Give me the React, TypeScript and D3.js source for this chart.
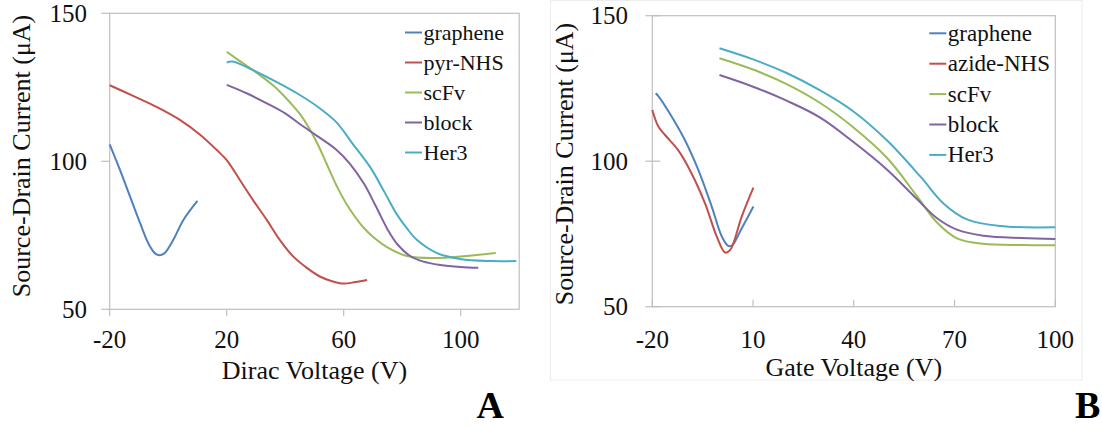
import React from 'react';
import * as d3 from 'd3';

// ---------- Panel A data (Dirac Voltage) ----------
const grapheneA_V = [-20, -16.5, -13, -9.6, -6.8, -4.5, -2.8, -1.1, 1.7, 5.2, 10];
const grapheneA_I = [105.7, 97.1, 88.0, 79.1, 72.3, 68.9, 68.3, 69.1, 73.4, 80.2, 86.6];

const pyrNHS_V = [-20, -12, -4, 4, 11, 16.6, 20, 24.5, 29, 33.7, 38.2, 42.8, 47.4, 52, 56, 60, 64, 68];
const pyrNHS_I = [125.7, 122.1, 118.4, 114.0, 108.9, 103.8, 100.4, 93.7, 86.9, 80.2, 73.4, 67.8, 64.0, 61.0, 59.5, 58.7, 59.2, 59.9];

const scFvA_V = [20, 24, 29, 36.5, 42, 45, 48, 51, 54, 57.7, 61, 66.6, 70, 74.8, 81.6, 90.5, 102, 112];
const scFvA_I = [137, 134.2, 130.8, 125.1, 119.5, 116.0, 111.5, 106.0, 99.5, 91.5, 85.5, 77.8, 74.5, 71.0, 68.0, 67.3, 68.0, 69.0];

const blockA_V = [20, 27, 33.7, 40, 45, 51, 57, 62, 67, 71, 75, 78.5, 82.7, 87, 93, 100, 106];
const blockA_I = [125.8, 122.9, 119.6, 116.2, 112.6, 108.5, 104.3, 99.3, 92.3, 84.8, 77.0, 71.8, 68.0, 66.2, 65.0, 64.3, 64.0];

const her3A_V = [20, 22, 29, 37, 45, 51, 57.4, 63, 69, 74, 77.9, 81.5, 85.1, 91.9, 99.8, 110, 119];
const her3A_I = [133.4, 133.7, 130.8, 126.8, 122.4, 118.5, 113.3, 106.0, 98.1, 89.5, 82.5, 77.5, 73.4, 69.0, 67.0, 66.3, 66.3];

// ---------- Panel B data (Gate Voltage) ----------
const grapheneB_V = [-19, -18.2, -14.2, -10.3, -6.3, -2.3, 0.7, 2.6, 3.8, 6.6, 10.1];
const grapheneB_I = [123.3, 122.4, 115.3, 107.3, 97.0, 84.4, 74.1, 70.9, 71.1, 76.9, 84.4];

const azideNHS_V = [-20, -18.2, -16.2, -12.3, -8.3, -4.3, -0.8, 1.7, 3.2, 6.6, 10.1];
const azideNHS_I = [117.6, 111.9, 109.0, 103.8, 95.8, 85.5, 74.1, 68.6, 69.5, 80.9, 90.9];

const scFvB_V = [0, 10, 20, 30, 40, 50, 58.8, 64.7, 70.7, 78.6, 90, 100];
const scFvB_I = [135.4, 131.5, 126.5, 120.0, 111.5, 101.0, 88.0, 79.0, 73.5, 71.6, 71.2, 71.1];

const blockB_V = [0, 10, 20, 30, 40, 50, 58.8, 64.7, 70.7, 78.6, 90, 100];
const blockB_I = [129.6, 125.6, 120.8, 115.0, 106.5, 97.0, 87.0, 80.5, 76.5, 74.4, 73.6, 73.3];

const her3B_V = [0, 10, 20, 30, 40, 50, 60, 66.7, 73.7, 83.6, 100];
const her3B_I = [138.8, 135.0, 130.3, 124.3, 117.0, 107.0, 94.5, 85.5, 80.0, 77.7, 77.3];

// ---------- ticks & labels ----------
const yTicks = [50, 100, 150];
const xTicksA = [-20, 20, 60, 100];
const xTicksB = [-20, 10, 40, 70, 100];
const legendA = ['graphene', 'pyr-NHS', 'scFv', 'block', 'Her3'];
const legendB = ['graphene', 'azide-NHS', 'scFv', 'block', 'Her3'];
const COLORS = ['#4F81BD', '#C0504D', '#9BBB59', '#8064A2', '#4BACC6'];

const zip = (v: number[], i: number[]) => v.map((x, k) => [x, i[k]] as [number, number]);

const seriesA = [
  zip(grapheneA_V, grapheneA_I),
  zip(pyrNHS_V, pyrNHS_I),
  zip(scFvA_V, scFvA_I),
  zip(blockA_V, blockA_I),
  zip(her3A_V, her3A_I),
];
const seriesB = [
  zip(grapheneB_V, grapheneB_I),
  zip(azideNHS_V, azideNHS_I),
  zip(scFvB_V, scFvB_I),
  zip(blockB_V, blockB_I),
  zip(her3B_V, her3B_I),
];

const FONT = '"Liberation Serif", "Times New Roman", serif';
const GRID = '#bfbfbf';

type PanelProps = {
  x0: number; x1: number; y0: number; y1: number;
  xDomain: [number, number];
  xTicks: number[];
  series: [number, number][][];
  legend: string[];
  legX: number; legY: number; legStep: number; legFont: number;
  xTitle: string; titleY: number;
  yTitleX: number; yTitleY: number; yLabelX: number;
  yTickIn: number; yTickOut: number; xTickIn: number; xTickOut: number;
  letter: string; letterX: number;
};

function Panel(p: PanelProps) {
  const x = d3.scaleLinear().domain(p.xDomain).range([p.x0, p.x1]);
  const y = d3.scaleLinear().domain([50, 150]).range([p.y1, p.y0]);
  const line = d3
    .line<[number, number]>()
    .x((d) => x(d[0]))
    .y((d) => y(d[1]))
    .curve(d3.curveCatmullRom.alpha(0.5));
  return (
    <g>
      <rect x={p.x0} y={p.y0} width={p.x1 - p.x0} height={p.y1 - p.y0} fill="none" stroke={GRID} strokeWidth={1.2} />
      {yTicks.map((t) => (
        <g key={'y' + t}>
          <line x1={p.x0 - p.yTickOut} x2={p.x0 + p.yTickIn} y1={y(t)} y2={y(t)} stroke={GRID} strokeWidth={1.2} />
          <text x={p.yLabelX} y={y(t)} dy="0.35em" textAnchor="end" fontSize={25} fontFamily={FONT} fill="#111">
            {t}
          </text>
        </g>
      ))}
      {p.xTicks.map((t) => (
        <g key={'x' + t}>
          <line x1={x(t)} x2={x(t)} y1={p.y1 - p.xTickIn} y2={p.y1 + p.xTickOut} stroke={GRID} strokeWidth={1.2} />
          <text x={x(t)} y={348} textAnchor="middle" fontSize={25} fontFamily={FONT} fill="#111">
            {t}
          </text>
        </g>
      ))}
      {p.series.map((s, i) => (
        <path key={'s' + i} d={line(s) || ''} fill="none" stroke={COLORS[i]} strokeWidth={2} />
      ))}
      {p.legend.map((name, i) => (
        <g key={'l' + i}>
          <line x1={p.legX} x2={p.legX + 17} y1={p.legY + i * p.legStep} y2={p.legY + i * p.legStep} stroke={COLORS[i]} strokeWidth={2} />
          <text x={p.legX + 18.5} y={p.legY + i * p.legStep + 7.5} fontSize={p.legFont} fontFamily={FONT} fill="#111">
            {name}
          </text>
        </g>
      ))}
      <text x={(p.x0 + p.x1) / 2} y={p.titleY} textAnchor="middle" fontSize={26} fontFamily={FONT} fill="#111">
        {p.xTitle}
      </text>
      <text
        transform={`translate(${p.yTitleX},${p.yTitleY}) rotate(-90)`}
        textAnchor="middle"
        fontSize={26}
        fontFamily={FONT}
        fill="#111"
      >
        Source-Drain Current (μA)
      </text>
      <text x={p.letterX} y={418} fontSize={38} fontWeight="bold" fontFamily={FONT} fill="#000">
        {p.letter}
      </text>
    </g>
  );
}

export default function App() {
  return (
    <div style={{ position: 'absolute', left: 0, top: 0 }}>
      <svg width={1102} height={427} style={{ display: 'block', background: '#fff' }}>
        <rect x={550.5} y={0.5} width={531.5} height={379.5} fill="none" stroke="#ededed" strokeWidth={1} />
        <Panel
          x0={109.7} x1={519.2} y0={13.3} y1={309.3}
          xDomain={[-20, 120]} xTicks={xTicksA} series={seriesA} legend={legendA}
          legX={405} legY={32.5} legStep={30} legFont={22}
          xTitle="Dirac Voltage (V)" titleY={379}
          yTitleX={30} yTitleY={156} yLabelX={87}
          yTickIn={0} yTickOut={8.5} xTickIn={0} xTickOut={7}
          letter="A" letterX={476.5}
        />
        <Panel
          x0={652.3} x1={1055.3} y0={15.7} y1={306.7}
          xDomain={[-20, 100]} xTicks={xTicksB} series={seriesB} legend={legendB}
          legX={929.3} legY={33.3} legStep={30.4} legFont={23}
          xTitle="Gate Voltage (V)" titleY={376}
          yTitleX={573} yTitleY={164} yLabelX={628}
          yTickIn={8} yTickOut={7} xTickIn={7} xTickOut={0}
          letter="B" letterX={1075}
        />
      </svg>
    </div>
  );
}
